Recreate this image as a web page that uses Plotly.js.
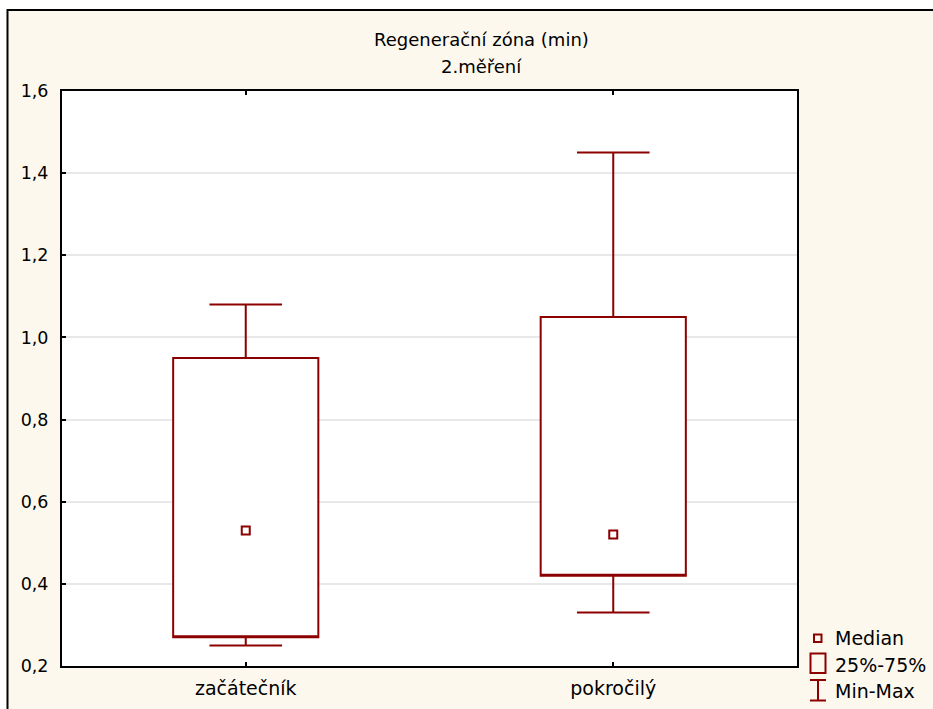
<!DOCTYPE html>
<html>
<head>
<meta charset="utf-8">
<script src="https://cdn.plot.ly/plotly-3.0.1.min.js"></script>
<style>html,body{margin:0;padding:0;background:#fff;}#chart{width:933px;height:709px;}</style>
</head>
<body>
<div id="chart"></div>
<script>
// ---- data ----
var categories = ["začátečník", "pokročilý"];
var q1Values = [0.27, 0.42];
var q3Values = [0.95, 1.05];
var minValues = [0.25, 0.33];
var maxValues = [1.08, 1.45];
var medianValues = [0.53, 0.52];
var yTickValues = [0.2, 0.4, 0.6, 0.8, 1.0, 1.2, 1.4, 1.6];
var titleLines = ["Regenerační zóna (min)", "2.měření"];
var legendLabels = ["Median", "25%-75%", "Min-Max"];

// ---- layout helpers (pixel -> paper) ----
var W = 933, H = 709, ML = 62, MR = 136, MT = 91, MB = 43;
var PW = W - ML - MR, PH = H - MT - MB;
function X(px) { return (px - ML) / PW; }
function Y(py) { return (H - MB - py) / PH; }

var red = "#8c0000";
var cream = "#fdf8ee";
var font = "DejaVu Sans, Verdana, sans-serif";

var traces = [
  {
    type: "box",
    x: categories,
    q1: q1Values,
    median: q1Values,
    q3: q3Values,
    lowerfence: minValues,
    upperfence: maxValues,
    width: 0.395,
    whiskerwidth: 0.5,
    boxpoints: false,
    fillcolor: "#ffffff",
    line: { color: red, width: 2 },
    hoverinfo: "skip",
    showlegend: false
  },
  {
    type: "scatter",
    mode: "markers",
    x: categories,
    y: medianValues,
    marker: { symbol: "square-open", size: 8, color: red, line: { width: 2, color: red } },
    hoverinfo: "skip",
    showlegend: false
  }
];

var shapes = [
  // white strips outside outer frame
  { type: "rect", xref: "paper", yref: "paper", x0: X(-5), x1: X(940), y0: Y(9), y1: Y(-5), fillcolor: "#ffffff", line: { width: 0 }, layer: "below" },
  { type: "rect", xref: "paper", yref: "paper", x0: X(-5), x1: X(6.5), y0: Y(720), y1: Y(-5), fillcolor: "#ffffff", line: { width: 0 }, layer: "below" },
  // outer frame
  { type: "rect", xref: "paper", yref: "paper", x0: X(7.5), x1: X(945), y0: Y(725), y1: Y(10), line: { color: "#000", width: 2 } },
  // legend: median symbol
  { type: "rect", xref: "paper", yref: "paper", x0: X(814), x1: X(821.5), y0: Y(642), y1: Y(634.5), fillcolor: "rgba(0,0,0,0)", line: { color: red, width: 2 } },
  // legend: box symbol
  { type: "rect", xref: "paper", yref: "paper", x0: X(810.5), x1: X(825.5), y0: Y(673), y1: Y(653.5), fillcolor: "rgba(0,0,0,0)", line: { color: red, width: 2 } },
  // legend: whisker symbol
  { type: "line", xref: "paper", yref: "paper", x0: X(818), x1: X(818), y0: Y(700.5), y1: Y(680), line: { color: red, width: 2 } },
  { type: "line", xref: "paper", yref: "paper", x0: X(810), x1: X(826), y0: Y(680), y1: Y(680), line: { color: red, width: 2 } },
  { type: "line", xref: "paper", yref: "paper", x0: X(810), x1: X(826), y0: Y(700.5), y1: Y(700.5), line: { color: red, width: 2 } }
];

var annotations = [
  { text: titleLines[0], xref: "paper", yref: "paper", x: X(481), y: Y(40), xanchor: "center", yanchor: "middle", showarrow: false, font: { family: font, size: 18, color: "#000" } },
  { text: titleLines[1], xref: "paper", yref: "paper", x: X(481), y: Y(66), xanchor: "center", yanchor: "middle", showarrow: false, font: { family: font, size: 18, color: "#000" } }
];
var legendY = [638, 664.5, 690.5];
for (var i = 0; i < legendLabels.length; i++) {
  annotations.push({ text: legendLabels[i], xref: "paper", yref: "paper", x: X(833), y: Y(legendY[i]), xanchor: "left", yanchor: "middle", showarrow: false, font: { family: font, size: 19, color: "#000" } });
}

var layout = {
  width: W, height: H,
  margin: { l: ML, r: MR, t: MT, b: MB, pad: 0 },
  paper_bgcolor: cream,
  plot_bgcolor: "#ffffff",
  separators: ", ",
  showlegend: false,
  font: { family: font, size: 17, color: "#000" },
  xaxis: {
    type: "category",
    range: [-0.5, 1.5],
    showline: true, linecolor: "#000", linewidth: 2, mirror: "ticks",
    ticks: "inside", ticklen: 4, tickwidth: 2, tickcolor: "#000",
    showgrid: false, zeroline: false,
    tickfont: { family: font, size: 19, color: "#000" },
    ticklabelstandoff: 4,
    fixedrange: true
  },
  yaxis: {
    range: [0.2, 1.6],
    tickvals: yTickValues,
    tickformat: ".1f",
    showline: true, linecolor: "#000", linewidth: 2, mirror: true,
    ticks: "inside", ticklen: 4, tickwidth: 2, tickcolor: "#000",
    showgrid: true, gridcolor: "#e8e8e8", gridwidth: 2,
    zeroline: false,
    tickfont: { family: font, size: 17.5, color: "#000" },
    ticklabelstandoff: 8,
    fixedrange: true
  },
  shapes: shapes,
  annotations: annotations
};

Plotly.newPlot("chart", traces, layout, { displayModeBar: false, staticPlot: true });
</script>
</body>
</html>
